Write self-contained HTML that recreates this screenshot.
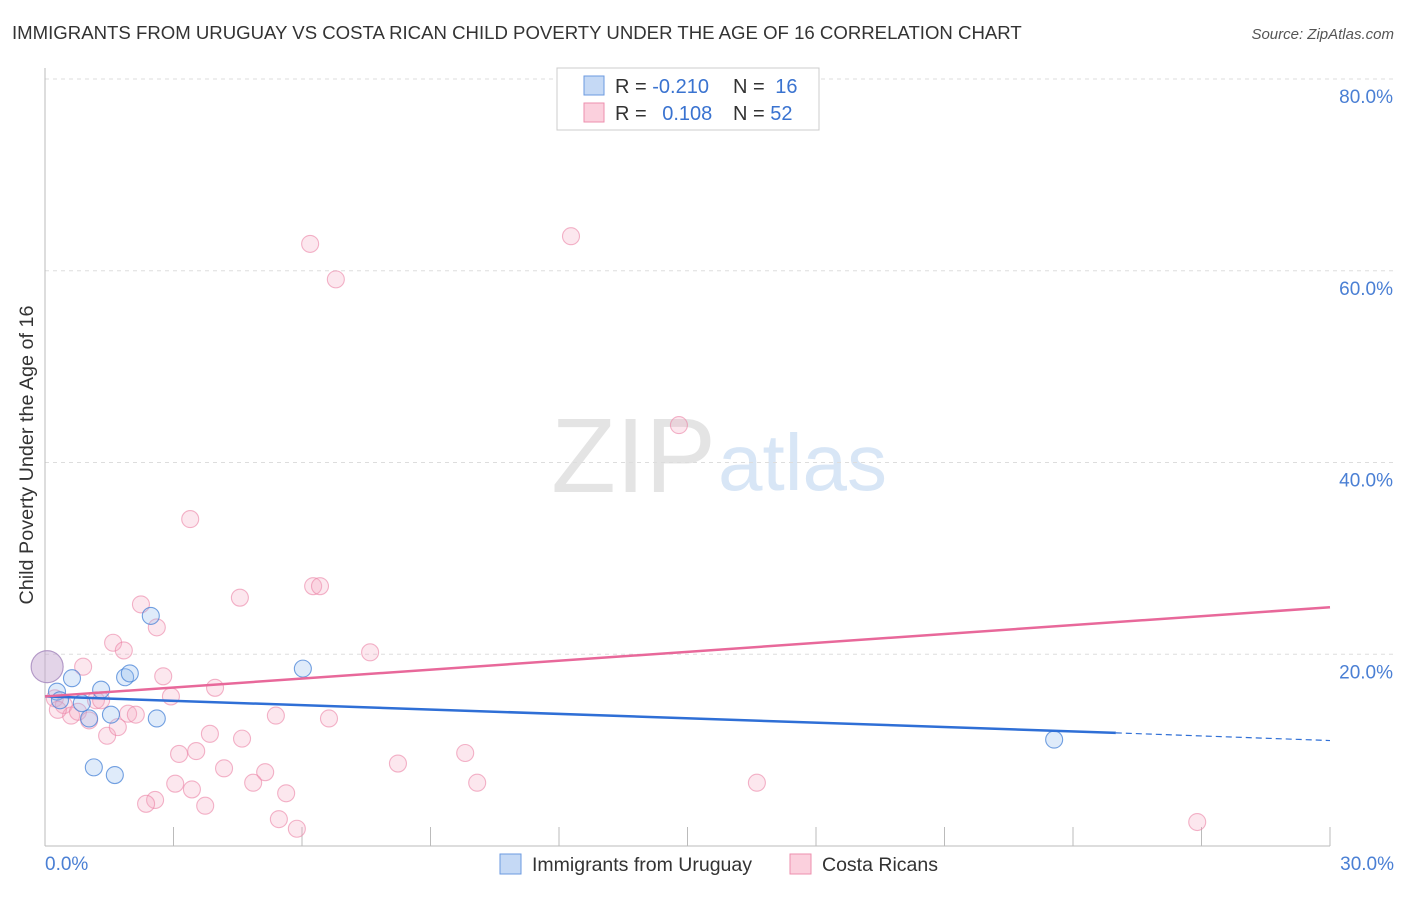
<!DOCTYPE html>
<html><head><meta charset="utf-8"><style>
body{margin:0;background:#fff;font-family:"Liberation Sans",sans-serif}
svg text{font-family:"Liberation Sans",sans-serif}
</style></head><body>
<svg width="1406" height="892">
<text x="12" y="39" font-size="18.6" fill="#333">IMMIGRANTS FROM URUGUAY VS COSTA RICAN CHILD POVERTY UNDER THE AGE OF 16 CORRELATION CHART</text>
<text x="1394" y="39" font-size="15" fill="#555" font-style="italic" text-anchor="end">Source: ZipAtlas.com</text>
<text x="716" y="492" font-size="106" fill="#e4e4e4" text-anchor="end" font-family="Liberation Serif">ZIP</text>
<text x="718" y="490" font-size="80" fill="#d8e6f6">atlas</text>
<g id="grid"></g>
<line x1="45" y1="68" x2="45" y2="846" stroke="#bbb"/>
<line x1="45" y1="846" x2="1330" y2="846" stroke="#bbb"/>
<g id="marks"></g>
<text x="33" y="455" font-size="19.8" fill="#333" text-anchor="middle" transform="rotate(-90 33 455)">Child Poverty Under the Age of 16</text>
<text x="45" y="870" font-size="19" fill="#4a7fd4">0.0%</text>
<text x="1394" y="870" font-size="19" fill="#4a7fd4" text-anchor="end">30.0%</text>
<g>
<rect x="557" y="68" width="262" height="62" fill="#fff" stroke="#ccc"/>
<rect x="584" y="76" width="20" height="19" fill="#c5d9f5" stroke="#6b9ae0"/>
<rect x="584" y="103" width="20" height="19" fill="#fbd0dd" stroke="#ee8fae"/>
<text x="615" y="93" font-size="20" fill="#333">R = <tspan fill="#3a73d0">-0.210</tspan></text>
<text x="733" y="93" font-size="20" fill="#333">N = <tspan fill="#3a73d0" dx="5">16</tspan></text>
<text x="615" y="120" font-size="20" fill="#333">R = <tspan fill="#3a73d0" dx="10">0.108</tspan></text>
<text x="733" y="120" font-size="20" fill="#333">N = <tspan fill="#3a73d0">52</tspan></text>
</g>
<g>
<rect x="500" y="854" width="21" height="20" fill="#c5d9f5" stroke="#6b9ae0"/>
<text x="532" y="871" font-size="19.5" fill="#333">Immigrants from Uruguay</text>
<rect x="790" y="854" width="21" height="20" fill="#fbd0dd" stroke="#ee8fae"/>
<text x="822" y="871" font-size="19.5" fill="#333">Costa Ricans</text>
</g>
</svg>
<script>
const yTicks=[20,40,60,80];
const xTicks=[0,3,6,9,12,15,18,21,24,27,30];
const blueX=[0.05,0.28,0.63,1.31,0.86,1.03,1.54,1.87,1.98,2.47,2.61,6.02,1.14,1.63,23.56,0.35];
const blueY=[18.7,16.1,17.5,16.3,14.9,13.3,13.7,17.6,18.0,24.0,13.3,18.5,8.2,7.4,11.1,15.2];
const pinkX=[0.05,0.23,0.44,0.89,0.61,0.77,1.03,1.19,1.31,1.59,1.84,2.24,2.61,2.76,2.94,1.45,1.70,1.94,2.12,3.39,4.55,6.26,6.42,7.59,3.97,5.39,6.63,6.19,6.79,12.28,14.80,3.13,3.53,3.85,4.60,4.18,5.14,4.86,3.04,3.43,2.57,2.36,3.74,5.63,5.46,5.88,8.24,9.81,10.09,16.62,26.9,0.30];
const pinkY=[18.7,15.4,14.7,18.7,13.6,14.0,13.1,15.2,15.2,21.2,20.4,25.2,22.8,17.7,15.6,11.5,12.4,13.8,13.7,34.1,25.9,27.1,27.1,20.2,16.5,13.6,13.3,62.8,59.1,63.6,43.9,9.6,9.9,11.7,11.2,8.1,7.7,6.6,6.5,5.9,4.8,4.4,4.2,5.5,2.8,1.8,8.6,9.7,6.6,6.6,2.5,14.2];
const blueTrend=[15.6,11.8,11.0]; const blueTrendX=[0,25,30];
const pinkTrend=[15.6,24.9]; const pinkTrendX=[0,30];
const NS='http://www.w3.org/2000/svg';
const sx=v=>45+v*(1285/30), sy=v=>846-v*(767/80);
function mk(t,a,p){const e=document.createElementNS(NS,t);for(const k in a)e.setAttribute(k,a[k]);p.appendChild(e);return e;}
const grid=document.getElementById('grid'),marks=document.getElementById('marks');
yTicks.forEach(v=>{
 const l=mk('line',{x1:45,x2:1394,y1:sy(v),y2:sy(v),stroke:'#ddd','stroke-dasharray':'4,4'},grid);
 
 
 const t=mk('text',{x:1393,y:sy(v)+24,'font-size':19,fill:'#4a7fd4','text-anchor':'end'},grid);
 t.textContent=v.toFixed(1)+'%';
 
 
});
xTicks.forEach(v=>{
 const l=mk('line',{x1:sx(v),x2:sx(v),y1:827,y2:846,stroke:'#bbb'},grid);
 
 
});
pinkX.forEach((x,i)=>{
 const c=mk('circle',{cx:sx(x),cy:sy(pinkY[i]),r:i==0?16:8.5,fill:'rgba(246,170,195,0.28)',stroke:'rgba(235,130,165,0.6)','stroke-width':1.1},marks);
 
 
});
blueX.forEach((x,i)=>{
 const c=mk('circle',{cx:sx(x),cy:sy(blueY[i]),r:i==0?16:8.5,fill:i==0?'rgba(170,170,220,0.3)':'rgba(150,190,240,0.3)',stroke:i==0?'rgba(140,140,200,0.6)':'rgba(70,130,215,0.75)','stroke-width':1.1},marks);
 
 
});
const bl=mk('line',{x1:sx(blueTrendX[0]),y1:sy(blueTrend[0]),x2:sx(blueTrendX[1]),y2:sy(blueTrend[1]),stroke:'#2f6fd6','stroke-width':2.5},marks);


const bd=mk('line',{x1:sx(blueTrendX[1]),y1:sy(blueTrend[1]),x2:sx(blueTrendX[2]),y2:sy(blueTrend[2]),stroke:'#2f6fd6','stroke-width':1.2,'stroke-dasharray':'6,4'},marks);


const pl=mk('line',{x1:sx(pinkTrendX[0]),y1:sy(pinkTrend[0]),x2:sx(pinkTrendX[1]),y2:sy(pinkTrend[1]),stroke:'#e8689a','stroke-width':2.5},marks);


</script>
</body></html>
